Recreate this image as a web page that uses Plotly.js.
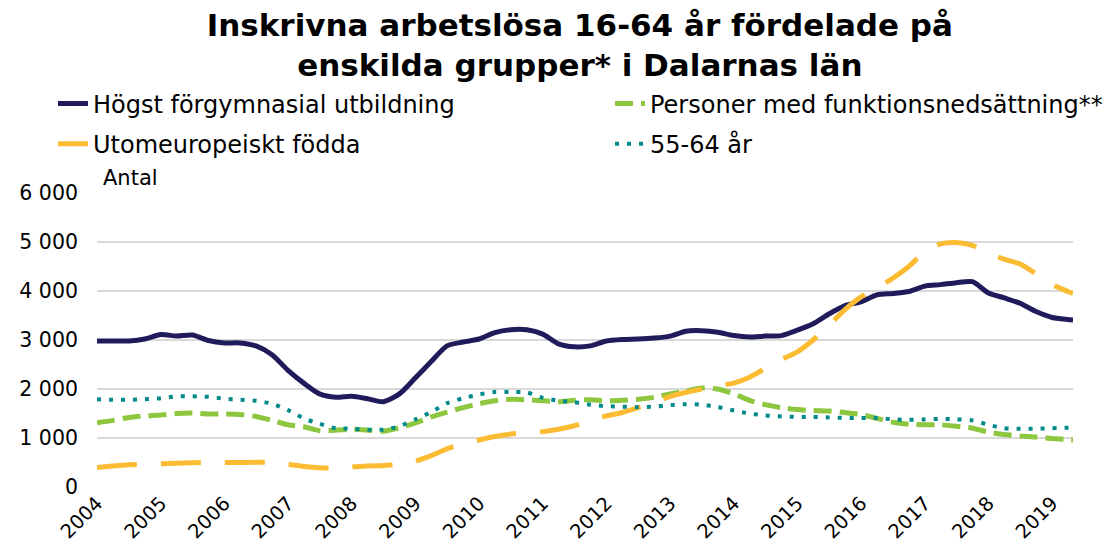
<!DOCTYPE html>
<html>
<head>
<meta charset="utf-8">
<script src="https://cdn.plot.ly/plotly-3.0.1.min.js"></script>
<style>
html,body{margin:0;padding:0;background:#fff;}
#chart{width:1115px;height:555px;}
</style>
</head>
<body>
<div id="chart"></div>
<script>
// Quarterly observation dates (last point = latest month shown)
const dates = [
"2004-01-01","2004-04-01","2004-07-01","2004-10-01",
"2005-01-01","2005-04-01","2005-07-01","2005-10-01",
"2006-01-01","2006-04-01","2006-07-01","2006-10-01",
"2007-01-01","2007-04-01","2007-07-01","2007-10-01",
"2008-01-01","2008-04-01","2008-07-01","2008-10-01",
"2009-01-01","2009-04-01","2009-07-01","2009-10-01",
"2010-01-01","2010-04-01","2010-07-01","2010-10-01",
"2011-01-01","2011-04-01","2011-07-01","2011-10-01",
"2012-01-01","2012-04-01","2012-07-01","2012-10-01",
"2013-01-01","2013-04-01","2013-07-01","2013-10-01",
"2014-01-01","2014-04-01","2014-07-01","2014-10-01",
"2015-01-01","2015-04-01","2015-07-01","2015-10-01",
"2016-01-01","2016-04-01","2016-07-01","2016-10-01",
"2017-01-01","2017-04-01","2017-07-01","2017-10-01",
"2018-01-01","2018-04-01","2018-07-01","2018-10-01",
"2019-01-01","2019-04-01","2019-05-01"
];

const seriesNames = [
  "Högst förgymnasial utbildning",
  "Personer med funktionsnedsättning**",
  "Utomeuropeiskt födda",
  "55-64 år"
];

const forgymnasial = [
2980,2980,2980,3020, 3110,3080,3100,2990, 2940,2940,2880,2700, 2380,2120,1900,1830,
1850,1800,1740,1900, 2230,2560,2880,2960, 3020,3150,3210,3210, 3120,2920,2860,2880,
2980,3010,3020,3040, 3080,3180,3190,3160, 3090,3060,3080,3090, 3200,3330,3530,3700,
3780,3920,3950,3990, 4100,4130,4170,4190, 3960,3860,3750,3580, 3460,3420,3410
];

const funktionsnedsattning = [
1310,1360,1420,1450, 1470,1500,1510,1490, 1490,1480,1440,1360, 1270,1230,1150,1160,
1180,1160,1140,1210, 1310,1430,1530,1620, 1700,1760,1790,1780, 1760,1740,1770,1780,
1760,1770,1790,1830, 1900,1960,2020,2000, 1900,1770,1680,1620, 1580,1560,1550,1520,
1480,1400,1320,1280, 1270,1270,1240,1200, 1120,1070,1040,1020, 990,970,960
];

const utomeuropeiskt = [
400,430,455,465, 475,485,495,500, 500,500,505,500, 460,420,395,390,
410,430,440,470, 530,640,780,880, 960,1030,1080,1110, 1130,1180,1250,1350,
1450,1520,1620,1730, 1850,1930,2000,2070, 2120,2240,2420,2600, 2760,3000,3300,3620,
3880,4060,4260,4500, 4800,4960,4990,4930, 4770,4650,4550,4350, 4130,3990,3950
];

const aldre = [
1790,1780,1780,1790, 1810,1850,1850,1840, 1800,1780,1760,1700, 1570,1400,1290,1200,
1190,1170,1170,1240, 1380,1530,1710,1810, 1890,1940,1940,1930, 1820,1760,1730,1680,
1650,1640,1630,1640, 1670,1690,1680,1630, 1560,1500,1460,1440, 1430,1430,1420,1410,
1410,1410,1380,1370, 1380,1390,1380,1360, 1270,1200,1190,1190, 1200,1210,1220
];

const yearTicks = ["2004","2005","2006","2007","2008","2009","2010","2011","2012","2013","2014","2015","2016","2017","2018","2019"];
const yTicks = [0,1000,2000,3000,4000,5000,6000];

const FONT = "DejaVu Sans, Liberation Sans, Arial, sans-serif";

const traces = [
  {x: dates, y: forgymnasial, name: seriesNames[0], type: "scatter", mode: "lines",
   line: {color: "#201c5c", width: 5, shape: "spline", smoothing: 0.7}, legend: "legend"},
  {x: dates, y: funktionsnedsattning, name: seriesNames[1], type: "scatter", mode: "lines",
   line: {color: "#8dc63f", width: 5, shape: "spline", smoothing: 0.7, dash: "18px,8px"}, legend: "legend2"},
  {x: dates, y: utomeuropeiskt, name: seriesNames[2], type: "scatter", mode: "lines",
   line: {color: "#fbbc33", width: 5, shape: "spline", smoothing: 0.7, dash: "40px,24px"}, legend: "legend3"},
  {x: dates, y: aldre, name: seriesNames[3], type: "scatter", mode: "lines",
   line: {color: "#00898a", width: 4, shape: "spline", smoothing: 0.7, dash: "4px,8px"}, legend: "legend4"}
];

function legendAt(xp, yp) {
  return {
    orientation: "h", x: xp, xanchor: "left", y: yp, yanchor: "top",
    font: {family: FONT, size: 24, color: "#000000"},
    bgcolor: "rgba(0,0,0,0)"
  };
}

const layout = {
  width: 1115, height: 555,
  paper_bgcolor: "#ffffff", plot_bgcolor: "#ffffff",
  font: {family: FONT, color: "#000000", size: 19},
  separators: ", ",
  margin: {l: 97, r: 42, t: 193, b: 68, autoexpand: false},
  title: {
    text: "<b>Inskrivna arbetslösa 16-64 år fördelade på<br>enskilda grupper* i Dalarnas län</b>",
    font: {family: FONT, size: 31, color: "#000000"},
    x: 0.52, xanchor: "center", y: 0.935, yanchor: "top"
  },
  xaxis: {
    type: "date",
    range: ["2004-01-01", "2019-05-01"],
    tickvals: yearTicks.map(y => y + "-01-01"),
    ticktext: yearTicks,
    tickangle: -45,
    showgrid: false, zeroline: false, showline: false,
    ticks: "",
    tickfont: {family: FONT, size: 19.5, color: "#000000"}
  },
  yaxis: {
    range: [0, 6000],
    tickvals: yTicks,
    tickformat: ",d",
    showgrid: true, gridcolor: "#d9d9d9", gridwidth: 1.5,
    zeroline: false, showline: false, ticks: "",
    ticklabelstandoff: 18,
    tickfont: {family: FONT, size: 20.5, color: "#000000"}
  },
  showlegend: true,
  legend: legendAt(-0.0451, 1.38),
  legend2: legendAt(0.5256, 1.38),
  legend3: legendAt(-0.0451, 1.243),
  legend4: legendAt(0.5256, 1.243),
  annotations: [
    {text: "Antal", xref: "paper", yref: "paper", x: 0.004, y: 1.051,
     xanchor: "left", yanchor: "middle", showarrow: false,
     font: {family: FONT, size: 21, color: "#000000"}}
  ]
};

Plotly.newPlot("chart", traces, layout, {displayModeBar: false, responsive: false});
</script>
</body>
</html>
